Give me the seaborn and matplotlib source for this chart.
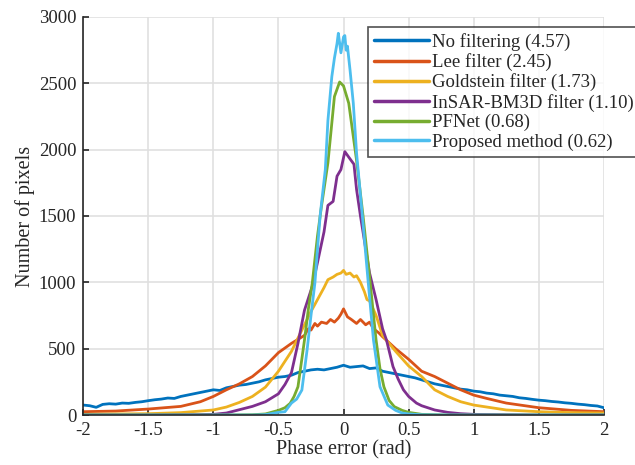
import numpy as np
import pandas as pd
import seaborn as sns
import matplotlib.pyplot as plt

# curve labels and colours (MATLAB default order)
labels = ['No filtering (4.57)', 'Lee filter (2.45)', 'Goldstein filter (1.73)',
          'InSAR-BM3D filter (1.10)', 'PFNet (0.68)', 'Proposed method (0.62)']
colors = ['#0072BD', '#D95319', '#EDB120', '#7E2F8E', '#77AC30', '#4DBEEE']

# No filtering
x_nf = np.round(np.arange(-2, 2.001, 0.05), 2)
y_nf = [75, 70, 58, 80, 85, 82, 90, 88, 95, 100, 108, 115, 120, 128, 125, 140, 150, 160, 170, 180,
        190, 185, 205, 215, 225, 230, 240, 250, 265, 275, 285, 290, 300, 320, 330, 340, 345, 340, 350, 360,
        375, 360, 365, 370, 350, 355, 330, 320, 310, 300, 290, 280, 265, 250, 235, 225, 215, 205, 195, 190,
        180, 175, 165, 160, 150, 145, 140, 130, 125, 118, 112, 108, 102, 98, 92, 88, 82, 78, 72, 68, 55]

# Lee filter
x_lee = [-2, -1.75, -1.5, -1.25, -1.1, -1.0, -0.9, -0.8, -0.7, -0.6, -0.5, -0.4, -0.3, -0.27, -0.25, -0.22,
         -0.2, -0.17, -0.13, -0.1, -0.07, -0.04, -0.02, 0, 0.03, 0.06, 0.1, 0.13, 0.17, 0.2, 0.23, 0.27,
         0.3, 0.4, 0.5, 0.6, 0.7, 0.75, 0.8, 0.9, 1.0, 1.1, 1.25, 1.5, 1.75, 2.0]
y_lee = [25, 30, 45, 65, 100, 140, 190, 235, 290, 370, 470, 540, 600, 650, 640, 690,
         670, 700, 690, 720, 700, 730, 760, 800, 740, 720, 690, 720, 680, 700, 650, 620,
         590, 500, 420, 330, 290, 265, 240, 190, 150, 125, 90, 55, 35, 25]

# Goldstein filter
x_gold = [-2, -1.75, -1.5, -1.25, -1.0, -0.9, -0.8, -0.7, -0.6, -0.5, -0.4, -0.33, -0.25, -0.2, -0.15, -0.12,
          -0.08, -0.05, -0.02, 0, 0.02, 0.05, 0.08, 0.1, 0.13, 0.16, 0.18, 0.2, 0.25, 0.3, 0.4, 0.5,
          0.6, 0.7, 0.8, 0.9, 1.0, 1.25, 1.5, 1.75, 2.0]
y_gold = [5, 8, 10, 18, 38, 60, 95, 140, 210, 330, 480, 620, 780, 870, 960, 1020,
          1040, 1060, 1070, 1090, 1060, 1070, 1040, 1050, 1000, 930, 870, 860, 750, 600, 480, 370,
          290, 190, 140, 100, 75, 38, 25, 18, 15]

# InSAR-BM3D filter
x_bm3d = [-2, -1.5, -1.2, -1.0, -0.9, -0.8, -0.7, -0.6, -0.5, -0.45, -0.4, -0.35, -0.3, -0.24, -0.2, -0.15,
          -0.12, -0.08, -0.05, -0.02, 0.01, 0.05, 0.08, 0.1, 0.13, 0.2, 0.25, 0.3, 0.33, 0.38, 0.42, 0.46,
          0.5, 0.56, 0.6, 0.7, 0.8, 0.9, 1.0, 1.5, 2.0]
y_bm3d = [0, 0, 2, 5, 15, 40, 65, 100, 160, 230, 320, 540, 790, 970, 1150, 1380,
          1580, 1610, 1800, 1850, 1985, 1930, 1890, 1700, 1500, 1070, 870, 650, 565, 365, 270, 190,
          140, 90, 70, 38, 20, 10, 5, 0, 0]

# PFNet
x_pf = [-2, -1, -0.7, -0.6, -0.5, -0.45, -0.41, -0.38, -0.35, -0.3, -0.27, -0.24, -0.2, -0.17, -0.12, -0.07,
        -0.03, 0.0, 0.04, 0.1, 0.15, 0.2, 0.25, 0.28, 0.31, 0.35, 0.39, 0.45, 0.5, 0.6, 0.8, 2.0]
y_pf = [0, 0, 2, 8, 35, 55, 88, 140, 213, 565, 800, 995, 1350, 1570, 1900, 2400,
        2510, 2480, 2350, 1920, 1500, 1040, 565, 350, 213, 110, 63, 35, 20, 5, 0, 0]

# Proposed method
x_prop = [-2, -0.7, -0.6, -0.5, -0.45, -0.4, -0.36, -0.32, -0.28, -0.25, -0.22, -0.18, -0.14, -0.12, -0.09,
          -0.07, -0.05, -0.04, -0.02, 0.0, 0.01, 0.02, 0.03, 0.05, 0.075, 0.1, 0.14, 0.19, 0.23, 0.28,
          0.34, 0.4, 0.45, 0.5, 0.6, 0.8, 2.0]
y_prop = [0, 0, 3, 20, 25, 90, 120, 188, 490, 750, 995, 1500, 1850, 2220, 2550,
          2690, 2800, 2877, 2730, 2850, 2860, 2750, 2780, 2600, 2350, 1975, 1550, 995, 565, 213,
          75, 35, 15, 8, 2, 0, 0]

xs = [x_nf, x_lee, x_gold, x_bm3d, x_pf, x_prop]
ys = [y_nf, y_lee, y_gold, y_bm3d, y_pf, y_prop]
df = pd.concat([pd.DataFrame({'x': x, 'y': y, 'method': lab}) for x, y, lab in zip(xs, ys, labels)],
               ignore_index=True)

sns.set_style('white')
plt.rcParams['font.family'] = ['Liberation Serif', 'DejaVu Serif']

fig = plt.figure(figsize=(6.35, 4.65), dpi=100)
ax = fig.add_axes([0.131, 0.1075, 0.82, 0.856])

sns.lineplot(data=df, x='x', y='y', hue='method', hue_order=labels, palette=colors,
             sort=False, estimator=None, linewidth=2.0, ax=ax)

ax.set_xlim(-2, 2)
ax.set_ylim(0, 3000)
ax.set_xticks([-2, -1.5, -1, -0.5, 0, 0.5, 1, 1.5, 2])
ax.set_xticklabels(['-2', '-1.5', '-1', '-0.5', '0', '0.5', '1', '1.5', '2'])
ax.set_yticks(range(0, 3001, 500))
ax.grid(True, color='#e0e0e0', linewidth=1.2)
ax.set_axisbelow(True)
for s in ['top', 'right']:
    ax.spines[s].set_visible(False)
for s in ['left', 'bottom']:
    ax.spines[s].set_color('#262626')
    ax.spines[s].set_linewidth(1.2)
ax.tick_params(direction='in', length=4.5, width=1.2, color='#262626', labelsize=13.5,
               labelcolor='#262626', left=True, bottom=True, pad=5)
ax.set_xlabel('Phase error (rad)', fontsize=14.5, color='#262626', labelpad=1)
ax.set_ylabel('Number of pixels', fontsize=14.5, color='#262626', labelpad=3)

leg = ax.legend(loc='upper left', bbox_to_anchor=(0.547, 0.975), fontsize=13.5, frameon=True,
                fancybox=False, edgecolor='#262626', handlelength=2.9, handletextpad=0.2,
                labelspacing=0.12, borderpad=0.33, borderaxespad=0)
leg.get_frame().set_linewidth(1.2)
for line in leg.get_lines():
    line.set_linewidth(2.5)

fig.savefig('out.png', dpi=100)
